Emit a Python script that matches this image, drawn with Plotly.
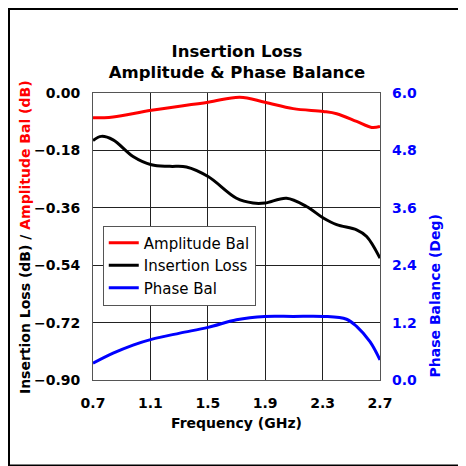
import plotly.graph_objects as go

freq_amp = [0.70, 0.84, 1.107, 1.502, 1.723, 1.898, 2.095, 2.305, 2.398, 2.537, 2.642, 2.70]
amp_bal = [-0.078, -0.075, -0.054, -0.029, -0.013, -0.029, -0.049, -0.058, -0.065, -0.089, -0.108, -0.105]

freq_il = [0.70, 0.758, 0.84, 0.979, 1.107, 1.235, 1.351, 1.502, 1.70, 1.816, 1.898, 2.049, 2.188, 2.305, 2.398, 2.537, 2.607, 2.70]
ins_loss = [-0.149, -0.136, -0.147, -0.199, -0.225, -0.230, -0.232, -0.262, -0.330, -0.345, -0.345, -0.330, -0.356, -0.392, -0.413, -0.429, -0.450, -0.518]

freq_ph = [0.70, 0.84, 0.979, 1.107, 1.305, 1.502, 1.70, 1.898, 2.095, 2.305, 2.467, 2.537, 2.63, 2.70]
phase_bal = [0.35, 0.56, 0.73, 0.85, 0.98, 1.10, 1.26, 1.33, 1.33, 1.33, 1.27, 1.12, 0.80, 0.42]

FONT = "DejaVu Sans"

fig = go.Figure()
fig.add_trace(go.Scatter(x=freq_amp, y=amp_bal, mode="lines", name="Amplitude Bal",
                         line=dict(color="#ff0000", width=3, shape="spline")))
fig.add_trace(go.Scatter(x=freq_il, y=ins_loss, mode="lines", name="Insertion Loss",
                         line=dict(color="#000000", width=3, shape="spline")))
fig.add_trace(go.Scatter(x=freq_ph, y=phase_bal, mode="lines", name="Phase Bal", yaxis="y2",
                         line=dict(color="#0000ff", width=3, shape="spline")))

grid = "#222222"
fig.update_layout(
    width=458, height=458,
    margin=dict(l=85, r=86, t=85, b=86),
    paper_bgcolor="white", plot_bgcolor="white",
    showlegend=True,
    legend=dict(x=0.034, y=0.538, xanchor="left", yanchor="top",
                bgcolor="white", bordercolor="#555555", borderwidth=1,
                font=dict(family=FONT, size=15, color="black"),
                tracegroupgap=0),
    title=dict(text="Insertion Loss<br>Amplitude & Phase Balance", x=0.5, xanchor="center",
               y=0.893, yanchor="middle",
               font=dict(family=FONT, size=16.5, color="black", weight="bold")),
    xaxis=dict(range=[0.7, 2.7], dtick=0.4, tick0=0.7, tickformat=".1f",
               showgrid=True, gridcolor=grid, gridwidth=1, zeroline=False,
               showline=True, linecolor="#555555", linewidth=1, mirror=True,
               ticks="", ticklabelstandoff=10,
               tickfont=dict(family=FONT, size=14, color="black", weight="bold"),
               title=dict(text="Frequency (GHz)", standoff=8,
                          font=dict(family=FONT, size=14, color="black", weight="bold"))),
    yaxis=dict(range=[-0.9, 0], dtick=0.18, tick0=0, tickformat=".2f",
               showgrid=True, gridcolor=grid, gridwidth=1, zeroline=False,
               showline=True, linecolor="#555555", linewidth=1, mirror=True,
               ticks="", ticklabelstandoff=9,
               tickfont=dict(family=FONT, size=14, color="black", weight="bold")),
    yaxis2=dict(range=[0, 6], dtick=1.2, tick0=0, tickformat=".1f", overlaying="y", side="right",
                showgrid=False, zeroline=False, ticks="", ticklabelstandoff=11,
                tickfont=dict(family=FONT, size=14, color="#0000ff", weight="bold")),
)

fig.add_annotation(xref="paper", yref="paper", x=-0.237, y=0.498, textangle=-90,
                   showarrow=False, xanchor="center", yanchor="middle",
                   text="<span style='color:black'>Insertion Loss (dB) / </span><span style='color:#ff0000'>Amplitude Bal (dB)</span>",
                   font=dict(family=FONT, size=14, weight="bold"))
fig.add_annotation(xref="paper", yref="paper", x=1.19, y=0.293, textangle=-90,
                   showarrow=False, xanchor="center", yanchor="middle",
                   text="Phase Balance (Deg)",
                   font=dict(family=FONT, size=14, color="#0000ff", weight="bold"))

fig.add_shape(type="rect", xref="paper", yref="paper",
              x0=(0.5 - 85) / 287, x1=(458 - 85) / 287,
              y0=(372 - 458) / 287, y1=(372 - 0.5) / 287,
              line=dict(color="black", width=3), fillcolor="rgba(0,0,0,0)", layer="above")

fig.write_html("out.html")
